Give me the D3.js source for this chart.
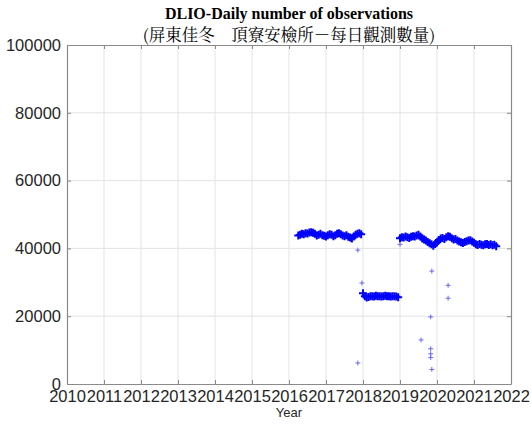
<!DOCTYPE html>
<html><head><meta charset="utf-8">
<script src="https://cdn.jsdelivr.net/npm/d3@7"></script>
<style>body{margin:0;background:#fff}svg{display:block}</style>
</head><body>
<script>
const titleLine1 = "DLIO-Daily number of observations";
const titleLine2 = "(屏東佳冬　頂寮安檢所－每日觀測數量)";
const xLabel = "Year";
const xTicks = [2010,2011,2012,2013,2014,2015,2016,2017,2018,2019,2020,2021,2022];
const yTicks = [0,20000,40000,60000,80000,100000];

// Segment 1: 2016.25 .. 2017.95, step 0.05
const seg1Start = 2016.25;
const seg1Values = [43800,44000,44300,44200,44500,44400,44700,44800,44600,44300,43800,44000,44300,43900,43700,43500,43900,44200,44000,43600,43900,44300,44500,44200,43800,43600,43900,43400,43200,42900,43500,44000,44300,44500,44200];
// Segment 2: 2018.00 .. 2018.95
const seg2Start = 2018.00;
const seg2Values = [26800,25900,25500,25700,25900,25900,25800,26000,25900,25900,25800,25900,26000,25900,25900,25800,25900,25900,25800,25600];
// Segment 3: 2019.00 .. 2021.60
const seg3Start = 2019.00;
const seg3Values = [43000,43300,43200,43500,43300,43100,43400,43600,43500,43800,44000,43500,42900,42600,42300,41900,41500,41200,40800,41300,41800,42500,42900,43100,42800,43300,43600,43400,43000,42600,42800,42300,42000,41800,41600,41900,42100,42300,42400,42000,41700,41200,41000,41300,41100,40900,41200,41300,41000,41200,40900,41100,40600];
const stepYears = 0.05;
// Isolated outliers
const outlierDates = [2017.86,2017.97,2017.86,2019.86,2019.83,2019.57,2019.83,2019.83,2019.83,2019.86,2020.30,2020.30,2019.00];
const outlierValues = [39500,29800,6200,33300,19800,13000,10400,8900,7800,4300,29100,25300,41200];

const W = 531, H = 427;
const m = {l:67, r:20, t:45, b:43};
const svg = d3.select("body").append("svg").attr("width",W).attr("height",H);
const x = d3.scaleLinear().domain([2010,2022]).range([m.l, W-m.r]);
const y = d3.scaleLinear().domain([0,100000]).range([H-m.b, m.t]);
const pw = W-m.r-m.l, ph = H-m.b-m.t;

svg.append("rect").attr("x",m.l).attr("y",m.t).attr("width",pw).attr("height",ph).attr("fill","#fff");

// grid
svg.append("g").selectAll("line").data(xTicks.slice(1,-1)).join("line")
  .attr("x1",d=>x(d)).attr("x2",d=>x(d)).attr("y1",m.t).attr("y2",H-m.b)
  .attr("stroke","#e3e3e3").attr("stroke-width",1);
svg.append("g").selectAll("line").data(yTicks.slice(1,-1)).join("line")
  .attr("y1",d=>y(d)).attr("y2",d=>y(d)).attr("x1",m.l).attr("x2",W-m.r)
  .attr("stroke","#e3e3e3").attr("stroke-width",1);

// points
const pts = [];
seg1Values.forEach((v,i)=>pts.push([seg1Start+i*stepYears, v]));
seg2Values.forEach((v,i)=>pts.push([seg2Start+i*stepYears, v]));
seg3Values.forEach((v,i)=>pts.push([seg3Start+i*stepYears, v]));
const band = svg.append("g").attr("stroke","#0000ff").attr("stroke-width",2);
const s = 4;
band.selectAll("path").data(pts).join("path")
  .attr("d",d=>{const px=x(d[0]),py=y(d[1]);return `M${px-s},${py}H${px+s}M${px},${py-s}V${py+s}`;});
const outl = outlierDates.map((d,i)=>[d,outlierValues[i]]);
const og = svg.append("g").attr("stroke","#4848ff").attr("stroke-width",0.8);
const s2 = 2.5;
og.selectAll("path").data(outl).join("path")
  .attr("d",d=>{const px=x(d[0]),py=y(d[1]);return `M${px-s2},${py}H${px+s2}M${px},${py-s2}V${py+s2}`;});

// axes (box with inner ticks)
const axisColor = "#8a8a8a";
const xb = svg.append("g").attr("transform",`translate(0,${H-m.b})`)
  .call(d3.axisBottom(x).tickValues(xTicks).tickFormat(d3.format("d")).tickSizeInner(-4).tickSizeOuter(0).tickPadding(6));
const xt = svg.append("g").attr("transform",`translate(0,${m.t})`)
  .call(d3.axisTop(x).tickValues(xTicks).tickFormat("").tickSizeInner(-4).tickSizeOuter(0));
const yl = svg.append("g").attr("transform",`translate(${m.l},0)`)
  .call(d3.axisLeft(y).tickValues(yTicks).tickFormat(d3.format("d")).tickSizeInner(-4).tickSizeOuter(0).tickPadding(6));
const yr = svg.append("g").attr("transform",`translate(${W-m.r},0)`)
  .call(d3.axisRight(y).tickValues(yTicks).tickFormat("").tickSizeInner(-4).tickSizeOuter(0));
[xb,xt,yl,yr].forEach(g=>{
  g.select(".domain").attr("stroke",axisColor).attr("stroke-width",1.2);
  g.selectAll(".tick line").attr("stroke",axisColor);
  g.selectAll("text").attr("fill","#262626").style("font-family","Liberation Sans, Arial, sans-serif").style("font-size","16.5px");
});
xb.selectAll("text").attr("dy","0.75em").attr("y",6);
yl.selectAll("text").attr("dy","0.32em");

svg.append("text").attr("x",(m.l+W-m.r)/2).attr("y",417).attr("text-anchor","middle")
  .style("font-family","Liberation Sans, Arial, sans-serif").style("font-size","13px").attr("fill","#262626").text(xLabel);
svg.append("text").attr("x",(m.l+W-m.r)/2).attr("y",19).attr("text-anchor","middle")
  .style("font-family","Liberation Serif, Times New Roman, serif").style("font-weight","bold").style("font-size","16px").attr("fill","#000").text(titleLine1);
svg.append("text").attr("x",(m.l+W-m.r)/2).attr("y",40.5).attr("text-anchor","middle")
  .style("font-family","Noto Serif CJK TC, Noto Sans CJK TC, serif").style("font-size","16.5px").attr("fill","#000").text(titleLine2);
</script>
</body></html>
